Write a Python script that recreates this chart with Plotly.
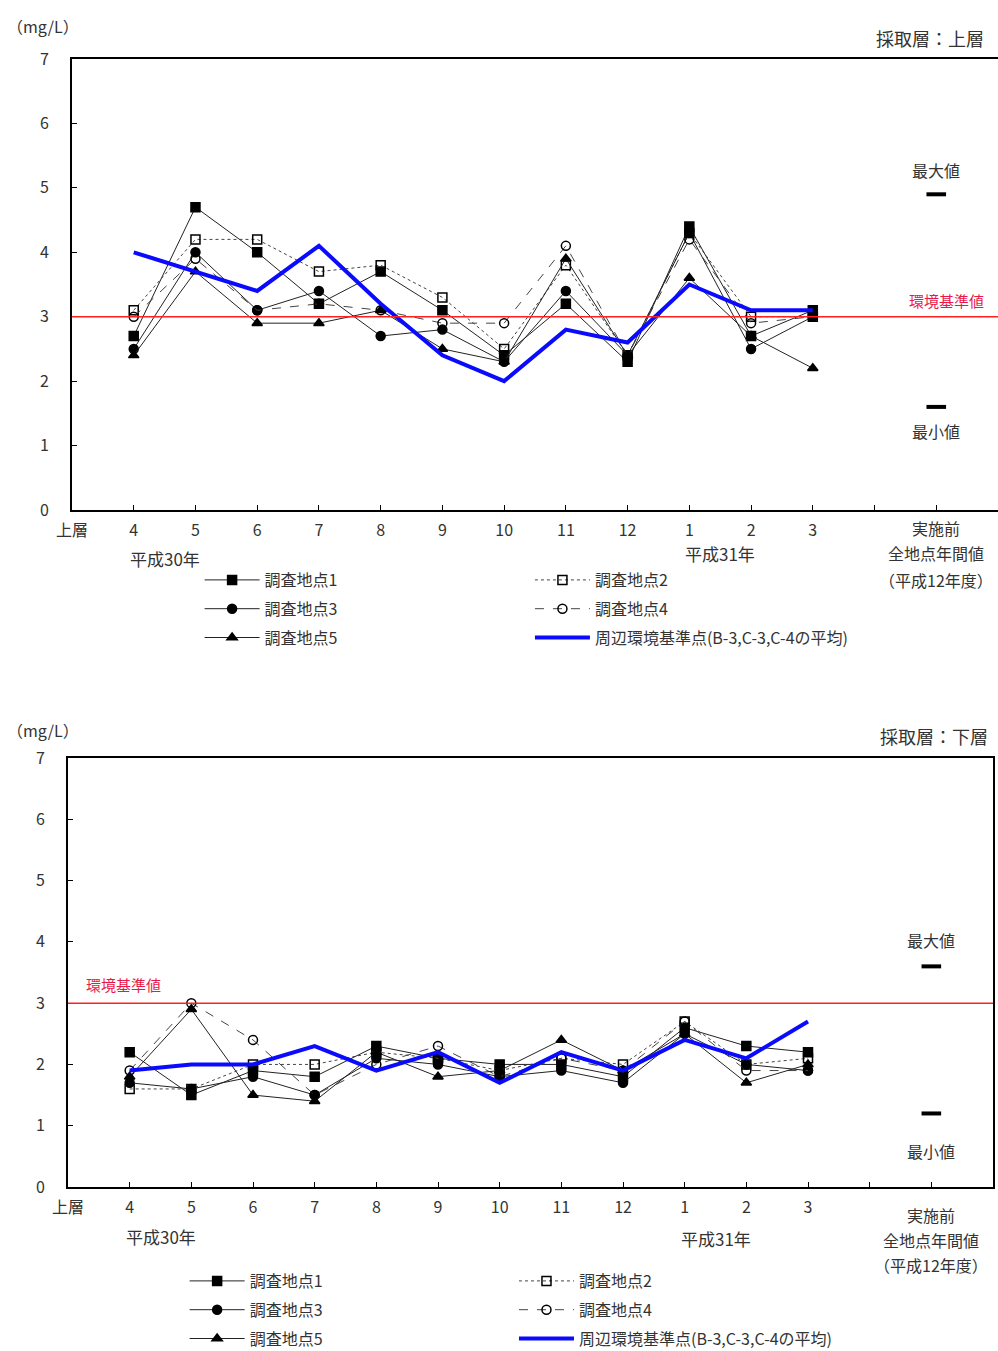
import plotly.graph_objects as go

FONT = "Noto Sans CJK JP"
TXT = "#333333"

months = ['4', '5', '6', '7', '8', '9', '10', '11', '12', '1', '2', '3']
series_names = ['調査地点1', '調査地点2', '調査地点3', '調査地点4', '調査地点5',
                '周辺環境基準点(B-3,C-3,C-4の平均)']

# upper layer (上層)
up_s1 = [2.7, 4.7, 4.0, 3.2, 3.7, 3.1, 2.4, 3.2, 2.3, 4.4, 2.7, 3.1]
up_s2 = [3.1, 4.2, 4.2, 3.7, 3.8, 3.3, 2.5, 3.8, 2.4, 4.3, 3.0, 3.0]
up_s3 = [2.5, 4.0, 3.1, 3.4, 2.7, 2.8, 2.3, 3.4, 2.4, 4.3, 2.5, 3.0]
up_s4 = [3.0, 3.9, 3.1, 3.2, 3.1, 2.9, 2.9, 4.1, 2.4, 4.2, 2.9, 3.0]
up_s5 = [2.4, 3.7, 2.9, 2.9, 3.1, 2.5, 2.3, 3.9, 2.4, 3.6, 2.7, 2.2]
up_ref = [4.0, 3.7, 3.4, 4.1, 3.2, 2.4, 2.0, 2.8, 2.6, 3.5, 3.1, 3.1]
up_max, up_min = 4.9, 1.6

# lower layer (下層)
lo_s1 = [2.2, 1.5, 1.9, 1.8, 2.3, 2.1, 2.0, 2.0, 1.8, 2.6, 2.3, 2.2]
lo_s2 = [1.6, 1.6, 2.0, 2.0, 2.2, 2.1, 1.9, 2.1, 2.0, 2.7, 2.0, 2.1]
lo_s3 = [1.7, 1.6, 1.8, 1.5, 2.1, 2.0, 1.8, 1.9, 1.7, 2.5, 2.0, 1.9]
lo_s4 = [1.9, 3.0, 2.4, 1.5, 2.0, 2.3, 1.8, 2.1, 1.9, 2.7, 1.9, 1.9]
lo_s5 = [1.8, 2.9, 1.5, 1.4, 2.2, 1.8, 1.9, 2.4, 1.9, 2.5, 1.7, 2.0]
lo_ref = [1.9, 2.0, 2.0, 2.3, 1.9, 2.2, 1.7, 2.2, 1.9, 2.4, 2.1, 2.7]
lo_max, lo_min = 3.6, 1.2

standard = 3.0
y_ticks = [0, 1, 2, 3, 4, 5, 6, 7]

xpos = list(range(1, len(months) + 1))
pre_pos = len(months) + 2

styles = [
    dict(symbol='square', dash='solid', color='#222222'),
    dict(symbol='square-open', dash='dot', color='#444444'),
    dict(symbol='circle', dash='solid', color='#222222'),
    dict(symbol='circle-open', dash='dash', color='#444444'),
    dict(symbol='triangle-up', dash='solid', color='#222222'),
]
# legend column assignment: series 1,3,5 left column; 2,4,ref right column
col_of = [0, 1, 0, 1, 0, 1]

fig = go.Figure()


def add_panel(tag, data, ref, vmax, vmin, xa, ya, legends):
    for i, vals in enumerate(data):
        st = styles[i]
        fig.add_trace(go.Scatter(
            x=xpos, y=vals, name=series_names[i], mode='lines+markers',
            line=dict(color=st['color'], width=1, dash=st['dash']),
            marker=dict(symbol=st['symbol'], size=9, color='black',
                        line=dict(color='black', width=1.5)),
            xaxis=xa, yaxis=ya, legend=legends[col_of[i]],
            legendgroup=f'{tag}{i}'))
    fig.add_trace(go.Scatter(
        x=xpos, y=ref, name=series_names[5], mode='lines',
        line=dict(color='#0a0aff', width=4),
        xaxis=xa, yaxis=ya, legend=legends[col_of[5]], legendgroup=f'{tag}5'))
    fig.add_trace(go.Scatter(
        x=[pre_pos, pre_pos], y=[vmax, vmin], mode='markers', showlegend=False,
        marker=dict(symbol='line-ew', size=14, line=dict(color='black', width=4)),
        xaxis=xa, yaxis=ya))


add_panel('u', [up_s1, up_s2, up_s3, up_s4, up_s5], up_ref, up_max, up_min, 'x', 'y',
          ['legend', 'legend2'])
add_panel('l', [lo_s1, lo_s2, lo_s3, lo_s4, lo_s5], lo_ref, lo_max, lo_min, 'x2', 'y2',
          ['legend3', 'legend4'])

tickvals = [0] + xpos + [pre_pos - 1, pre_pos]
ticktext = ['上層'] + months + ['', '']

axis_common = dict(showgrid=False, zeroline=False, showline=True, linecolor='black',
                   linewidth=2, mirror=True, ticks='inside', ticklen=5, automargin=False,
                   tickcolor='black', tickfont=dict(family=FONT, size=16, color=TXT))


def leg(x, ytop):
    return dict(orientation='v', x=x, y=1 - ytop / 1351, xanchor='left', yanchor='top',
                itemwidth=55, tracegroupgap=5,
                font=dict(family=FONT, size=16, color=TXT), bgcolor='rgba(0,0,0,0)')


fig.update_layout(
    width=998, height=1351, margin=dict(l=0, r=0, t=0, b=0, autoexpand=False),
    paper_bgcolor='white', plot_bgcolor='white',
    font=dict(family=FONT, color=TXT),
    xaxis=dict(domain=[72 / 998, 1.0], range=[0, 15], tickvals=tickvals, ticktext=ticktext,
               anchor='y', ticklabelstandoff=5, **axis_common),
    yaxis=dict(domain=[1 - 510 / 1351, 1 - 59 / 1351], range=[0, 7], tickvals=y_ticks,
               anchor='x', ticklabelstandoff=18, **axis_common),
    xaxis2=dict(domain=[68 / 998, 993 / 998], range=[0, 15], tickvals=tickvals, ticktext=ticktext,
                anchor='y2', ticklabelstandoff=5, **axis_common),
    yaxis2=dict(domain=[1 - 1187 / 1351, 1 - 758 / 1351], range=[0, 7], tickvals=y_ticks,
                anchor='x2', ticklabelstandoff=18, **axis_common),
    legend=leg(0.200, 563),
    legend2=leg(0.531, 563),
    legend3=leg(0.185, 1264),
    legend4=leg(0.515, 1264),
)

# environmental standard lines
for xr, yr in [('x', 'y'), ('x2', 'y2')]:
    fig.add_shape(type='line', xref=f'{xr} domain', yref=yr, x0=0, x1=1, y0=standard, y1=standard,
                  line=dict(color='#ff2020', width=1.5))

red = '#e8194a'


def ptxt(text, x, ypx, xref='paper', size=16, xanchor='center', color=TXT):
    return dict(x=x, y=1 - ypx / 1351, xref=xref, yref='paper', text=text, showarrow=False,
                xanchor=xanchor, yanchor='middle', font=dict(size=size, color=color))


anns = []
# upper panel texts
anns += [
    ptxt('（mg/L）', 0.005, 26, xanchor='left'),
    ptxt('採取層：上層', 0.988, 38, xanchor='right', size=18),
    dict(x=pre_pos, y=up_max, xref='x', yref='y', text='最大値', showarrow=False, yshift=24,
         font=dict(size=16)),
    dict(x=pre_pos, y=up_min, xref='x', yref='y', text='最小値', showarrow=False, yshift=-24,
         font=dict(size=16)),
    dict(x=pre_pos, y=standard, xref='x', yref='y', text='環境基準値', showarrow=False, yshift=16,
         xshift=10, font=dict(size=15, color=red)),
    ptxt('平成30年', 1.5, 558, xref='x', size=17),
    ptxt('平成31年', 10.5, 553, xref='x', size=17),
    ptxt('実施前', pre_pos, 528, xref='x'),
    ptxt('全地点年間値', pre_pos, 553, xref='x'),
    ptxt('（平成12年度）', pre_pos, 580, xref='x'),
]
# lower panel texts
anns += [
    ptxt('（mg/L）', 0.005, 730, xanchor='left'),
    ptxt('採取層：下層', 0.992, 736, xanchor='right', size=18),
    dict(x=pre_pos, y=lo_max, xref='x2', yref='y2', text='最大値', showarrow=False, yshift=26,
         font=dict(size=16)),
    dict(x=pre_pos, y=lo_min, xref='x2', yref='y2', text='最小値', showarrow=False, yshift=-38,
         font=dict(size=16)),
    dict(x=0.9, y=standard, xref='x2', yref='y2', text='環境基準値', showarrow=False, yshift=19,
         font=dict(size=15, color=red)),
    ptxt('平成30年', 1.5, 1236, xref='x2', size=17),
    ptxt('平成31年', 10.5, 1238, xref='x2', size=17),
    ptxt('実施前', pre_pos, 1215, xref='x2'),
    ptxt('全地点年間値', pre_pos, 1240, xref='x2'),
    ptxt('（平成12年度）', pre_pos, 1265, xref='x2'),
]
fig.update_layout(annotations=anns)

fig.write_html("out.html", config={'displayModeBar': False},
               post_script="document.body.style.margin='0px';document.body.style.padding='0px';")
